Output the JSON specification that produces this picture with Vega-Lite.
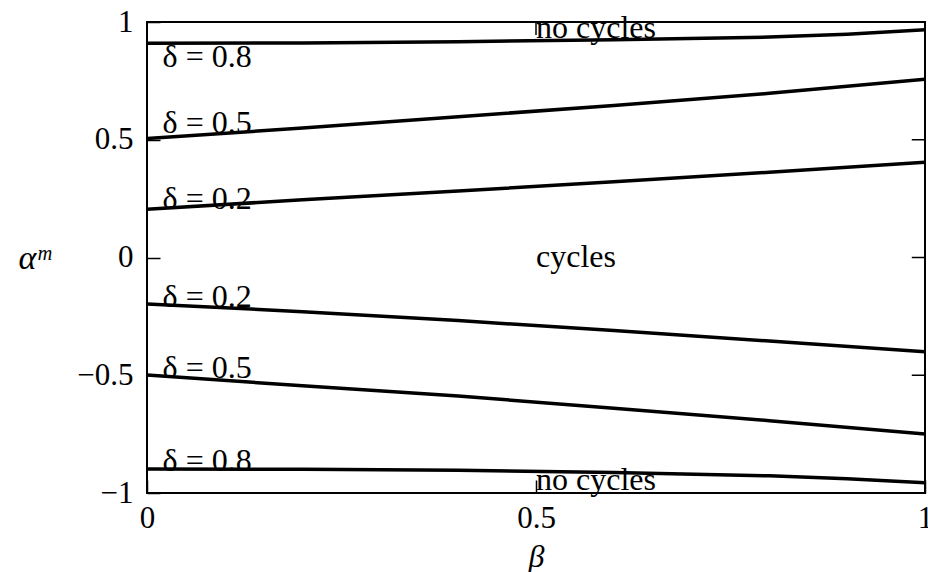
{
  "$schema": "https://vega.github.io/schema/vega-lite/v6.json",
  "width": 778,
  "height": 471,
  "autosize": "none",
  "padding": {"left": 147, "top": 22, "right": 3, "bottom": 79},
  "background": "white",
  "config": {
    "view": {"stroke": "black", "strokeWidth": 2},
    "font": "Liberation Serif"
  },
  "datasets": {
    "curves": [
      {"c": "u8", "beta": 0, "alpha": 0.91}, {"c": "u8", "beta": 0.2, "alpha": 0.911}, {"c": "u8", "beta": 0.4, "alpha": 0.916}, {"c": "u8", "beta": 0.6, "alpha": 0.925}, {"c": "u8", "beta": 0.8, "alpha": 0.936}, {"c": "u8", "beta": 0.9, "alpha": 0.948}, {"c": "u8", "beta": 1, "alpha": 0.967},
      {"c": "u5", "beta": 0, "alpha": 0.505}, {"c": "u5", "beta": 0.2, "alpha": 0.55}, {"c": "u5", "beta": 0.4, "alpha": 0.598}, {"c": "u5", "beta": 0.6, "alpha": 0.645}, {"c": "u5", "beta": 0.8, "alpha": 0.697}, {"c": "u5", "beta": 1, "alpha": 0.757},
      {"c": "u2", "beta": 0, "alpha": 0.205}, {"c": "u2", "beta": 0.2, "alpha": 0.245}, {"c": "u2", "beta": 0.4, "alpha": 0.282}, {"c": "u2", "beta": 0.6, "alpha": 0.322}, {"c": "u2", "beta": 0.8, "alpha": 0.362}, {"c": "u2", "beta": 1, "alpha": 0.405},
      {"c": "l2", "beta": 0, "alpha": -0.197}, {"c": "l2", "beta": 0.2, "alpha": -0.23}, {"c": "l2", "beta": 0.4, "alpha": -0.268}, {"c": "l2", "beta": 0.6, "alpha": -0.31}, {"c": "l2", "beta": 0.8, "alpha": -0.355}, {"c": "l2", "beta": 1, "alpha": -0.4},
      {"c": "l5", "beta": 0, "alpha": -0.499}, {"c": "l5", "beta": 0.2, "alpha": -0.545}, {"c": "l5", "beta": 0.4, "alpha": -0.588}, {"c": "l5", "beta": 0.6, "alpha": -0.64}, {"c": "l5", "beta": 0.8, "alpha": -0.693}, {"c": "l5", "beta": 1, "alpha": -0.749},
      {"c": "l8", "beta": 0, "alpha": -0.898}, {"c": "l8", "beta": 0.2, "alpha": -0.899}, {"c": "l8", "beta": 0.4, "alpha": -0.903}, {"c": "l8", "beta": 0.6, "alpha": -0.913}, {"c": "l8", "beta": 0.8, "alpha": -0.927}, {"c": "l8", "beta": 0.9, "alpha": -0.94}, {"c": "l8", "beta": 1, "alpha": -0.956}
    ],
    "labels": [
      {"beta": 0.02, "alpha": 0.81, "text": "δ = 0.8"},
      {"beta": 0.02, "alpha": 0.527, "text": "δ = 0.5"},
      {"beta": 0.02, "alpha": 0.205, "text": "δ = 0.2"},
      {"beta": 0.02, "alpha": -0.209, "text": "δ = 0.2"},
      {"beta": 0.02, "alpha": -0.513, "text": "δ = 0.5"},
      {"beta": 0.02, "alpha": -0.905, "text": "δ = 0.8"},
      {"beta": 0.5, "alpha": 0.932, "text": "no cycles"},
      {"beta": 0.5, "alpha": -0.039, "text": "cycles"},
      {"beta": 0.5, "alpha": -0.989, "text": "no cycles"}
    ]
  },
  "layer": [
    {
      "data": {"name": "curves"},
      "mark": {"type": "line", "color": "black", "strokeWidth": 3.5, "clip": true},
      "encoding": {
        "x": {
          "field": "beta", "type": "quantitative",
          "scale": {"domain": [0, 1], "nice": false, "zero": false},
          "axis": {
            "values": [0, 0.5, 1], "format": "~g", "grid": false, "domain": false,
            "tickSize": -13, "tickColor": "black", "tickWidth": 1.5,
            "labelFontSize": 31, "labelColor": "black", "labelPadding": 23, "labelFont": "Liberation Serif",
            "labelFlush": false,
            "title": "β", "titleFontSize": 32, "titleFontWeight": "normal", "titleFontStyle": "italic",
            "titleColor": "black", "titleY": 63, "titleBaseline": "middle", "titleFont": "Liberation Serif"
          }
        },
        "y": {
          "field": "alpha", "type": "quantitative",
          "scale": {"domain": [-1, 1], "nice": false, "zero": false},
          "axis": {
            "values": [-1, -0.5, 0, 0.5, 1], "format": "~g", "grid": false, "domain": false,
            "tickSize": -13, "tickColor": "black", "tickWidth": 1.5,
            "labelFontSize": 31, "labelColor": "black", "labelPadding": 27, "labelFont": "Liberation Serif",
            "labelFlush": false,
            "title": "αᵐ", "titleAngle": 0, "titleFontSize": 34, "titleFontWeight": "normal", "titleFontStyle": "italic",
            "titleColor": "black", "titleX": -113, "titleY": 236, "titleAlign": "center", "titleBaseline": "middle",
            "titleFont": "Liberation Serif"
          }
        },
        "detail": {"field": "c"}
      }
    },
    {
      "data": {"name": "labels"},
      "mark": {"type": "text", "align": "left", "baseline": "alphabetic", "fontSize": 32, "font": "Liberation Serif", "color": "black"},
      "encoding": {
        "x": {"field": "beta", "type": "quantitative"},
        "y": {"field": "alpha", "type": "quantitative"},
        "text": {"field": "text"}
      }
    },
    {
      "data": {"values": [{"t": 0.5}]},
      "mark": {"type": "rule", "color": "black", "strokeWidth": 1.5},
      "encoding": {
        "x": {"field": "t", "type": "quantitative"},
        "y": {"datum": 1},
        "y2": {"datum": 0.945}
      }
    },
    {
      "data": {"values": [{"t": -0.5}, {"t": 0}, {"t": 0.5}]},
      "mark": {"type": "rule", "color": "black", "strokeWidth": 1.5},
      "encoding": {
        "y": {"field": "t", "type": "quantitative"},
        "x": {"datum": 1},
        "x2": {"datum": 0.983}
      }
    }
  ]
}
